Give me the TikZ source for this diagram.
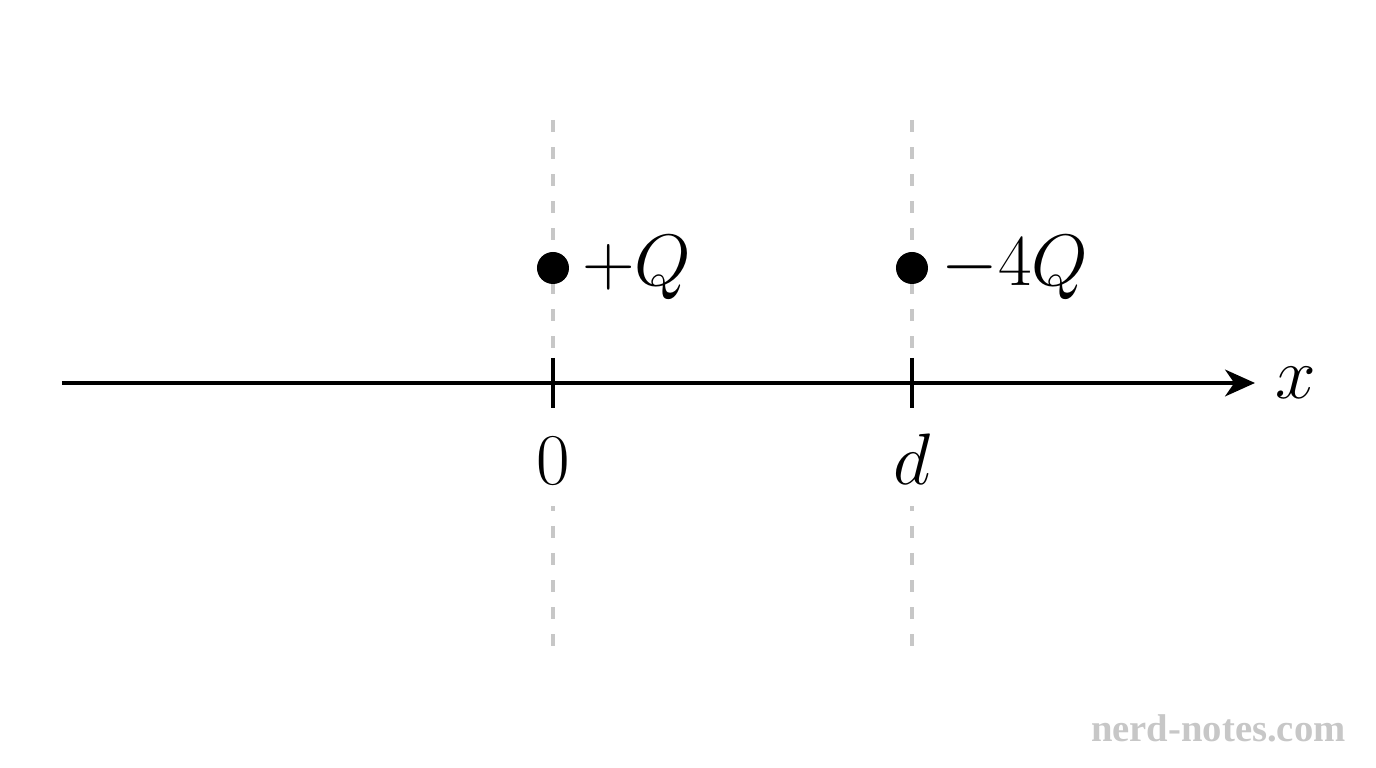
\documentclass[tikz,border=0pt]{standalone}
\usepackage{amsmath}
\usepackage{fontspec}
\newfontfamily\markfont{Liberation Serif}
\usetikzlibrary{arrows.meta, positioning}

\begin{document}
\begin{tikzpicture}[font=\huge]
  \tikzstyle{guide}=[black!22, line width=1pt, dash pattern=on 3.4pt off 4.3pt]
  \tikzstyle{charge}=[circle, fill=black, inner sep=0pt, minimum size=0.32cm]
  \tikzstyle{ticklabel}=[fill=white, inner sep=6pt]

  \useasboundingbox (-5.53,-3.85) rectangle (8.23,3.83);
  \draw[guide] (0,2.63) -- (0,-2.67); % Left guide
  \draw[guide] (3.59,2.63) -- (3.59,-2.67); % Right guide
  \coordinate (G) at (-4.91,0); % Axis start
  \coordinate (H) at (7.02,0); % Axis end
  \draw[-{Stealth[length=8.5pt, width=7.6pt, inset=2.6pt]}, line width=1.1pt] (G)--(H); % Axis
  \node[right=0.2cm of H, inner sep=0pt] (X) {$x$};
  \draw[line width=1.1pt] (0,0.25) -- (0,-0.25); % Left tick
  \draw[line width=1.1pt] (3.59,0.25) -- (3.59,-0.25); % Right tick
  \node[ticklabel, anchor=base] (O) at (0,-1.02) {$0$};
  \node[ticklabel, anchor=base] (D) at (3.59,-1.02) {$d$};
  \node[charge] (A) at (0,1.15) {}; % Left charge
  \node[charge] (B) at (3.59,1.15) {}; % Right charge
  \node[right=0.12cm of A, inner sep=0pt] (C) {$+Q$};
  \node[right=0.12cm of B, inner sep=0pt] (E) {$-4Q$};
  \node[anchor=base east, text=black!22, font=\markfont\bfseries\fontsize{11}{13}\selectfont] (W) at (8.05,-3.59) {nerd-notes.com};
\end{tikzpicture}
\end{document}
